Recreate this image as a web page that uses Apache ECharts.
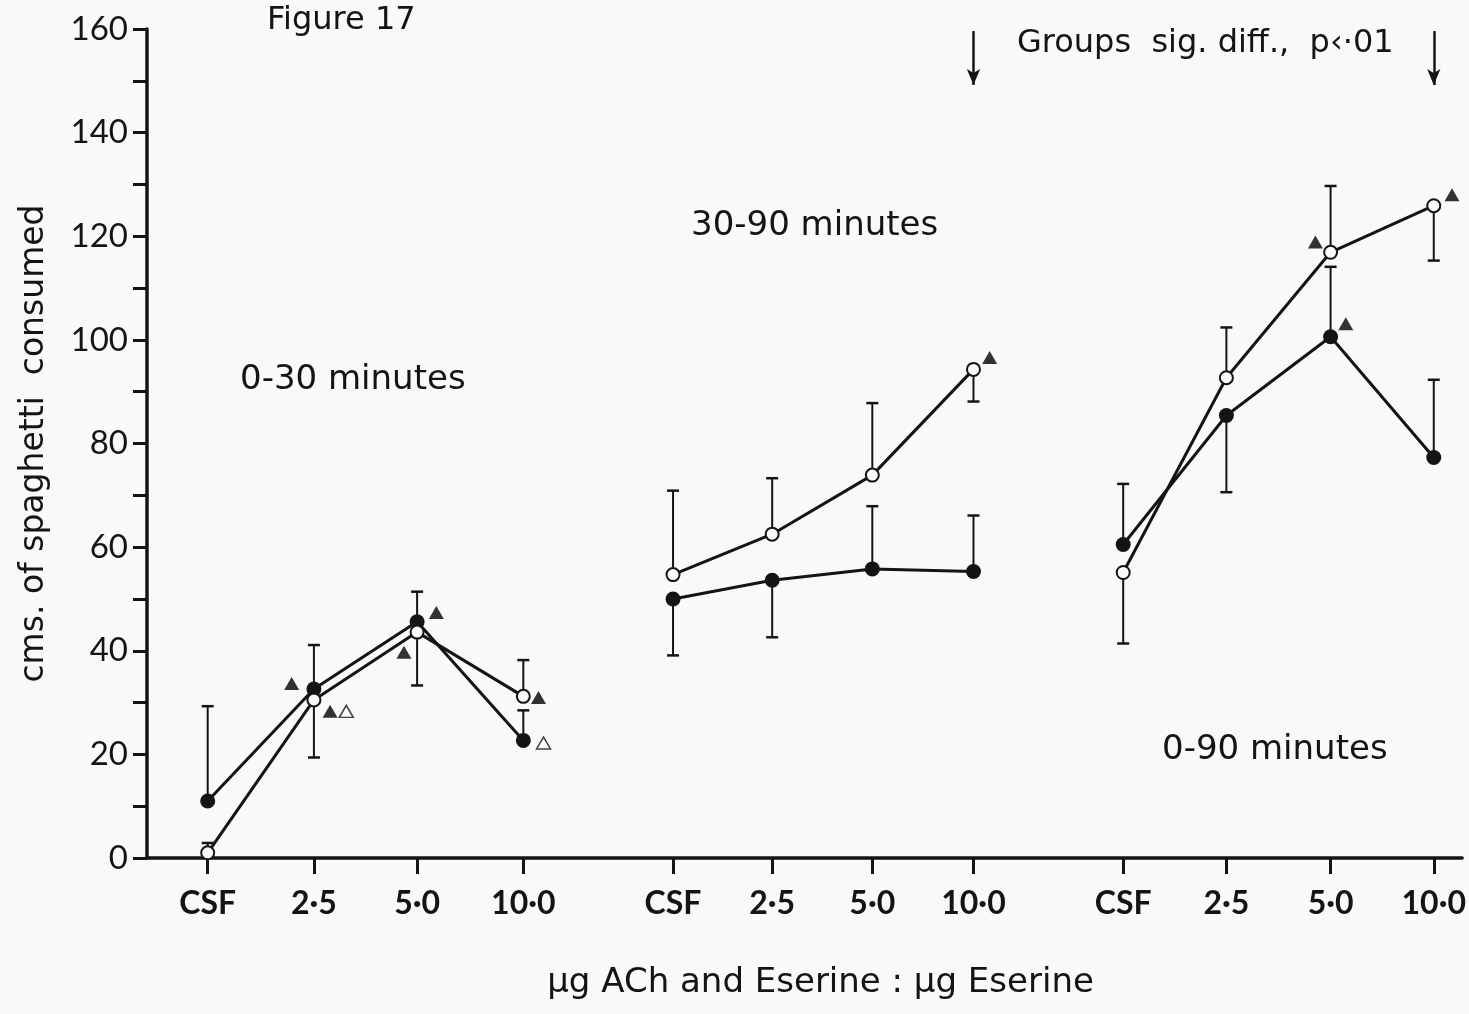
<!DOCTYPE html>
<html><head><meta charset="utf-8">
<script src="https://cdn.jsdelivr.net/npm/echarts@6/dist/echarts.min.js"></script>
<style>html,body{margin:0;padding:0;background:#f9f9f7}#c{width:1469px;height:1014px}</style>
</head><body><div id="c"></div>
<script>
// ---- data ----
const categories = ['CSF','2·5','5·0','10·0','CSF','2·5','5·0','10·0','CSF','2·5','5·0','10·0'];
const catX = [0.6, 1.65, 2.67, 3.72, 5.2, 6.18, 7.17, 8.17, 9.65, 10.67, 11.7, 12.72];
const groupNames = ['0-30 minutes', '30-90 minutes', '0-90 minutes'];
const openMean   = [1.0, 30.5, 43.6, 31.2, 54.7, 62.5, 73.9, 94.3, 55.1, 92.7, 116.9, 125.9];
const filledMean = [11.0, 32.6, 45.6, 22.7, 50.0, 53.6, 55.8, 55.3, 60.5, 85.4, 100.6, 77.3];
const openErrEnd   = [2.9, 19.4, 33.3, 38.2, 70.9, 73.3, 87.8, 88.1, 41.4, 102.4, 129.7, 115.3];
const filledErrEnd = [29.3, 41.1, 51.4, 28.5, 39.1, 42.6, 67.9, 66.1, 72.2, 70.6, 114.1, 92.3];
const triFilled = [[1.43,33.7],[1.81,28.3],[2.86,47.4],[2.54,39.7],[3.87,31.0],[8.33,96.6],[11.55,118.9],[11.85,103.1],[12.9,128.0]];
const triOpen = [[1.97,28.3],[3.92,22.2]];
const arrowX = [8.17, 12.72];
const arrowY = [159.6, 149.2];

const FONT = 'Lato, "Open Sans", sans-serif';
const WIDE = '"DejaVu Sans", "Open Sans", sans-serif';
const INK = '#141414';

const series = [];
function errData(means, ends){ return means.map((m,i)=>[catX[i], m, ends[i]]); }
const errRender = function(params, api){
  const x = api.value(0), a = api.value(1), b = api.value(2);
  const p0 = api.coord([x,a]), p1 = api.coord([x,b]);
  return {type:'group', children:[
    {type:'line', shape:{x1:p0[0],y1:p0[1],x2:p1[0],y2:p1[1]}, style:{stroke:INK,lineWidth:2}},
    {type:'line', shape:{x1:p1[0]-6,y1:p1[1],x2:p1[0]+6,y2:p1[1]}, style:{stroke:INK,lineWidth:2.5}}
  ]};
};
series.push({type:'custom', name:'err-open', renderItem:errRender, data:errData(openMean, openErrEnd), z:1, silent:true});
series.push({type:'custom', name:'err-filled', renderItem:errRender, data:errData(filledMean, filledErrEnd), z:1, silent:true});

for (let g=0; g<3; g++){
  const idx=[g*4,g*4+1,g*4+2,g*4+3];
  series.push({type:'line', name:groupNames[g]+' filled', data:idx.map(i=>[catX[i], filledMean[i]]),
    symbol:'circle', symbolSize:15, z:3,
    itemStyle:{color:INK, borderColor:INK, borderWidth:0},
    lineStyle:{color:INK, width:3}});
  series.push({type:'line', name:groupNames[g]+' open', data:idx.map(i=>[catX[i], openMean[i]]),
    symbol:'circle', symbolSize:13, z:4,
    itemStyle:{color:'#fbfbfa', borderColor:INK, borderWidth:2},
    lineStyle:{color:INK, width:3}});
}
series.push({type:'scatter', name:'sig filled', data:triFilled, symbol:'triangle', symbolSize:[15,13], z:5,
  itemStyle:{color:'#000'}});
series.push({type:'scatter', name:'sig open', data:triOpen, symbol:'triangle', symbolSize:[14,12], z:5,
  itemStyle:{color:'#fbfbfa', borderColor:INK, borderWidth:1.5}});
series.push({type:'line', name:'arrows', data:[], silent:true,
  markLine:{silent:true, symbol:['none','arrow'], symbolSize:[10,16], label:{show:false},
    lineStyle:{color:INK, width:2.5, type:'solid'},
    data: arrowX.map(x=>[{coord:[x,arrowY[0]]},{coord:[x,arrowY[1]]}])}});

const chart = echarts.init(document.getElementById('c'), null, {renderer:'canvas'});
chart.setOption({
  backgroundColor:'#f9f9f7',
  animation:false,
  grid:{left:147, right:4, top:29, bottom:156, containLabel:false},
  xAxis:{type:'value', min:0, max:13,
    name:'µg ACh and Eserine : µg Eserine', nameLocation:'middle', nameGap:108,
    nameTextStyle:{fontFamily:WIDE, fontSize:34, color:INK, padding:[0,0,0,32]},
    axisLine:{show:true, onZero:false, lineStyle:{color:INK, width:3.5}},
    axisTick:{show:true, customValues:catX, length:16, inside:false, lineStyle:{color:INK, width:3}},
    axisLabel:{customValues:catX, margin:30, fontFamily:FONT, fontSize:32, fontWeight:'bold', color:INK,
      formatter:function(v){ let best=0; for(let i=0;i<catX.length;i++){ if(Math.abs(catX[i]-v)<Math.abs(catX[best]-v)) best=i; } return categories[best]; }},
    splitLine:{show:false}},
  yAxis:{type:'value', min:0, max:160, interval:20,
    name:'cms. of spaghetti  consumed', nameLocation:'middle', nameGap:96, nameRotate:90,
    nameTextStyle:{fontFamily:WIDE, fontSize:33, color:INK},
    axisLine:{show:true, lineStyle:{color:INK, width:3.5}},
    axisTick:{show:true, length:14, lineStyle:{color:INK, width:3}},
    minorTick:{show:true, splitNumber:2, length:14, lineStyle:{color:INK, width:3}},
    axisLabel:{margin:19, fontFamily:FONT, fontSize:33, color:INK},
    splitLine:{show:false}, minorSplitLine:{show:false}},
  graphic:[
    {type:'text', style:{text:'Figure 17', x:267, y:21, font:'32px '+WIDE, fill:INK, textVerticalAlign:'middle'}},
    {type:'text', style:{text:'Groups  sig. diff.,  p‹·01', x:1017, y:44, font:'32px '+WIDE, fill:INK, textVerticalAlign:'middle'}},
    {type:'text', style:{text:groupNames[0], x:240, y:380, font:'34px '+WIDE, fill:INK, textVerticalAlign:'middle'}},
    {type:'text', style:{text:'30-90 minutes', x:691, y:226, font:'34px '+WIDE, fill:INK, textVerticalAlign:'middle'}},
    {type:'text', style:{text:'0-90 minutes', x:1162, y:750, font:'34px '+WIDE, fill:INK, textVerticalAlign:'middle'}}
  ],
  series:series
});
</script></body></html>
